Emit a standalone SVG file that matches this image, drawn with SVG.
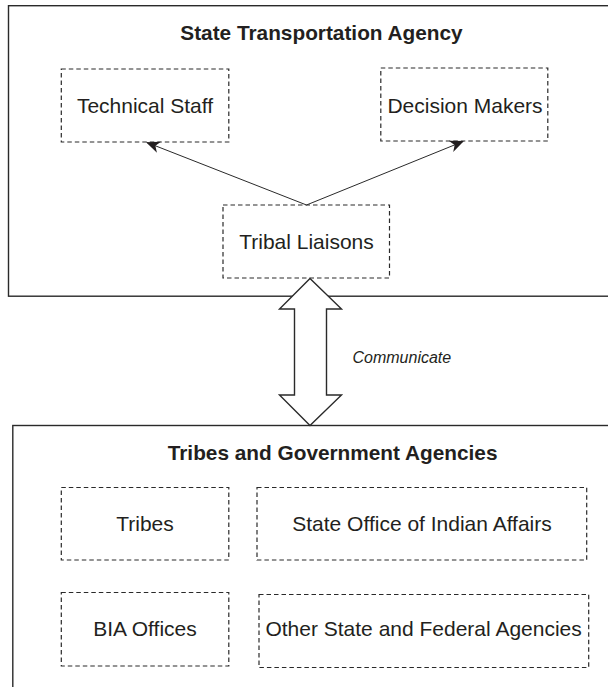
<svg xmlns="http://www.w3.org/2000/svg" width="608" height="687" viewBox="0 0 608 687">
<style>
.frame{fill:#fff;stroke:#2a2a2a;stroke-width:1.4}
.node{fill:#fff;stroke:#2a2a2a;stroke-width:1.2;stroke-dasharray:4.5 3}
.t{font-family:"Liberation Sans",Arial,sans-serif;font-size:21px;fill:#231f20;text-anchor:middle}
.title{font-family:"Liberation Sans",Arial,sans-serif;font-size:20.8px;font-weight:bold;fill:#231f20;text-anchor:middle}
.lbl{font-family:"Liberation Sans",Arial,sans-serif;font-size:16px;font-style:italic;fill:#231f20}
.conn{stroke:#2a2a2a;stroke-width:1;fill:none}
</style>
<defs>
<marker id="ah" markerUnits="userSpaceOnUse" markerWidth="14" markerHeight="12" viewBox="0 0 14 12" refX="13" refY="6" orient="auto">
<path d="M0,0 L14,6 L0,12 L4,6 z" fill="#231f20"/>
</marker>
</defs>
<g id="state-agency">
<rect class="frame" x="8.5" y="5.7" width="620" height="290.5"/>
<text class="title" x="321.5" y="40">State Transportation Agency</text>
</g>
<g id="tribes-agencies">
<rect class="frame" x="12.8" y="425.5" width="620" height="280"/>
<text class="title" x="332.6" y="460">Tribes and Government Agencies</text>
</g>
<g id="technical-staff">
<rect class="node" x="61.3" y="69" width="167.5" height="73"/>
<text class="t" x="145" y="113">Technical Staff</text>
</g>
<g id="decision-makers">
<rect class="node" x="380.8" y="68" width="167" height="73"/>
<text class="t" x="465" y="113">Decision Makers</text>
</g>
<g id="tribal-liaisons">
<rect class="node" x="223" y="205" width="166.5" height="73"/>
<text class="t" x="306.5" y="249">Tribal Liaisons</text>
</g>
<g id="tribes">
<rect class="node" x="61.3" y="487.5" width="167.5" height="72.5"/>
<text class="t" x="145" y="531">Tribes</text>
</g>
<g id="state-office">
<rect class="node" x="257" y="487.5" width="329.7" height="72.5"/>
<text class="t" x="422" y="531">State Office of Indian Affairs</text>
</g>
<g id="bia-offices">
<rect class="node" x="61.3" y="592.5" width="167.5" height="73.5"/>
<text class="t" x="145" y="636">BIA Offices</text>
</g>
<g id="other-agencies">
<rect class="node" x="259" y="594.5" width="329.7" height="73"/>
<text class="t" x="423.6" y="636">Other State and Federal Agencies</text>
</g>
<g id="connectors">
<line class="conn" x1="306.5" y1="205" x2="147" y2="142.5" marker-end="url(#ah)"/>
<line class="conn" x1="306.5" y1="205" x2="463" y2="141.5" marker-end="url(#ah)"/>
<polygon class="frame" stroke-width="1.2" points="310,278.5 341.5,309 326.5,309 326.5,395 341.5,395 310,425.5 279.5,395 294.5,395 294.5,309 279.5,309"/>
<text class="lbl" x="352.5" y="363">Communicate</text>
</g>
</svg>
